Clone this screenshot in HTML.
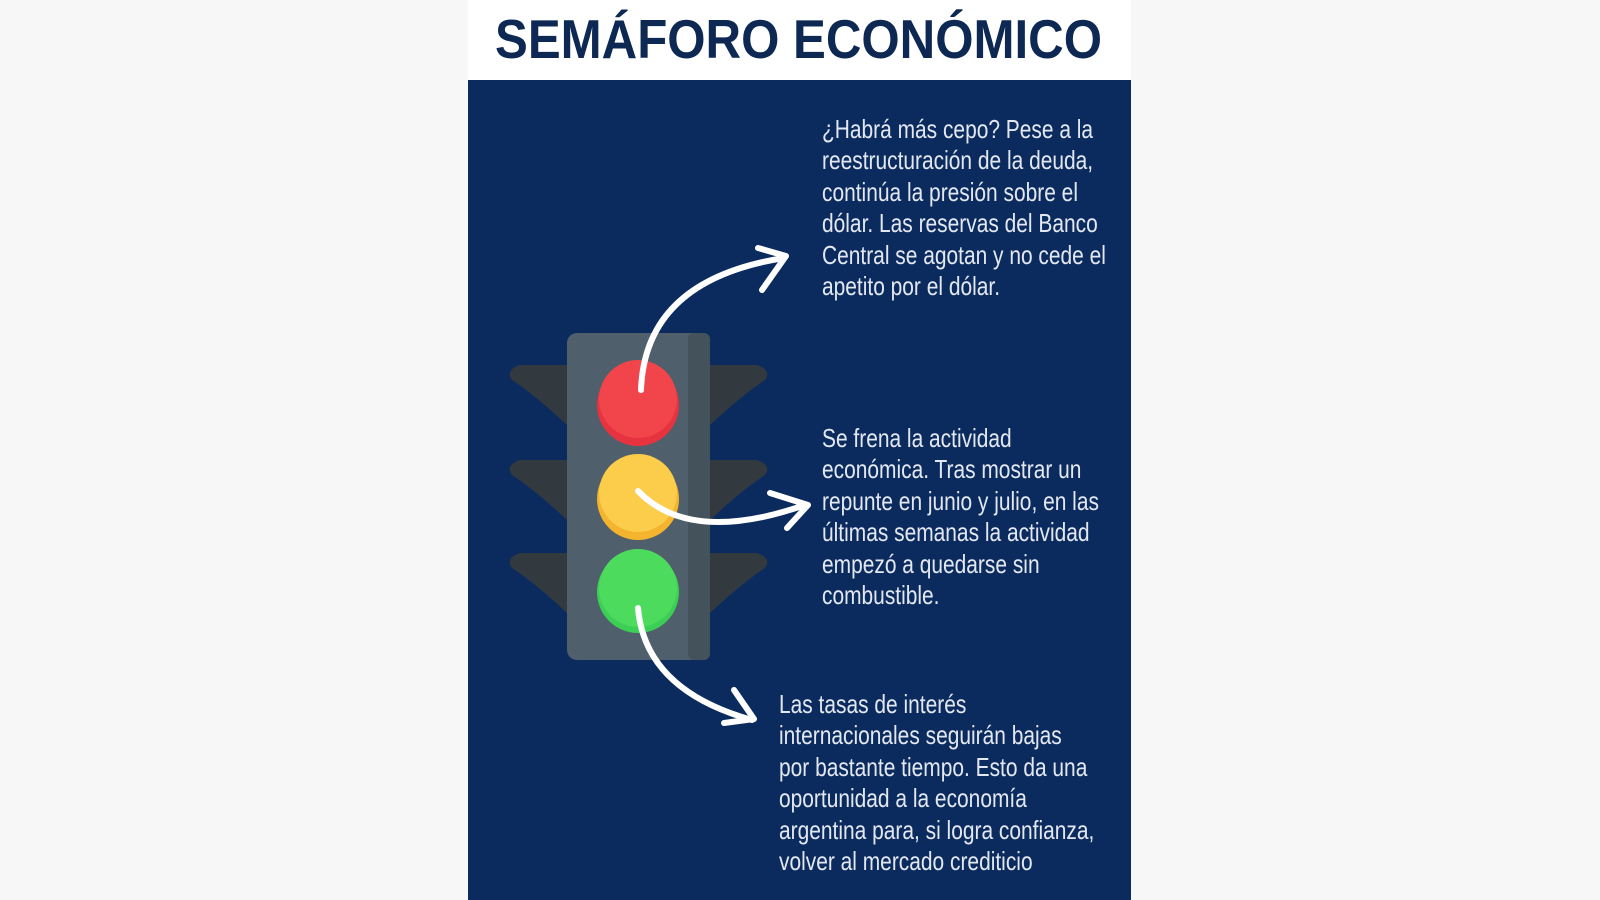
<!DOCTYPE html>
<html><head><meta charset="utf-8"><style>
html,body{margin:0;padding:0;width:1600px;height:900px;background:#f7f7f8;overflow:hidden}
.panel{position:absolute;left:468px;top:80px;width:663px;height:820px;background:#0b2b5e}
.head{position:absolute;left:468px;top:0;width:663px;height:80px;background:#fff}
.t{position:absolute;font-family:"Liberation Sans",sans-serif;font-size:26px;line-height:31.4px;color:#e3e8f0;white-space:nowrap;transform-origin:0 0;transform:scaleX(0.805)}
</style></head><body>
<div class="head"></div>
<div class="panel"></div>
<svg width="1600" height="900" style="position:absolute;left:0;top:0">
  <text x="495" y="58" textLength="607" lengthAdjust="spacingAndGlyphs" font-family="Liberation Sans, sans-serif" font-weight="bold" font-size="55" fill="#0d2852">SEMÁFORO ECONÓMICO</text>
  <g fill="#323a40">
    <path d="M567 365 L520 365 Q505 370 512 380 Q535 395 567 425Z"/>
    <path d="M567 460 L520 460 Q505 465 512 475 Q535 490 567 520Z"/>
    <path d="M567 553 L520 553 Q505 558 512 568 Q535 583 567 613Z"/>
    <path d="M710 365 L757 365 Q772 370 765 380 Q742 395 710 425Z"/>
    <path d="M710 460 L757 460 Q772 465 765 475 Q742 490 710 520Z"/>
    <path d="M710 553 L757 553 Q772 558 765 568 Q742 583 710 613Z"/>
  </g>
  <rect x="567" y="333" width="143" height="327" rx="10" fill="#4f5f6b"/>
  <rect x="688" y="333" width="22" height="327" rx="6" fill="#44525c"/>
  <circle cx="638" cy="405" r="41" fill="#e6333f"/>
  <circle cx="638" cy="399" r="39" fill="#f2454b"/>
  <circle cx="638" cy="499" r="41" fill="#f4b42e"/>
  <circle cx="638" cy="493" r="39" fill="#fbcd4a"/>
  <circle cx="638" cy="592" r="41" fill="#3ccf55"/>
  <circle cx="638" cy="588" r="39" fill="#4ddb5e"/>
  <g fill="none" stroke="#fff" stroke-width="6" stroke-linecap="round" stroke-linejoin="round">
    <path d="M641 390 Q645 280 784 258"/>
    <path d="M758 248 L786 256 L762 290"/>
    <path d="M638 491 Q690 545 805 505"/>
    <path d="M770 493 L808 505 L787 528"/>
    <path d="M638 608 Q645 690 752 720"/>
    <path d="M734 690 L754 719 L724 723"/>
  </g>
</svg>
<div class="t" style="left:822px;top:114px">¿Habrá más cepo? Pese a la<br>reestructuración de la deuda,<br>continúa la presión sobre el<br>dólar. Las reservas del Banco<br>Central se agotan y no cede el<br>apetito por el dólar.</div>
<div class="t" style="left:822px;top:423px">Se frena la actividad<br>económica. Tras mostrar un<br>repunte en junio y julio, en las<br>últimas semanas la actividad<br>empezó a quedarse sin<br>combustible.</div>
<div class="t" style="left:779px;top:689px">Las tasas de interés<br>internacionales seguirán bajas<br>por bastante tiempo. Esto da una<br>oportunidad a la economía<br>argentina para, si logra confianza,<br>volver al mercado crediticio</div>
</body></html>
